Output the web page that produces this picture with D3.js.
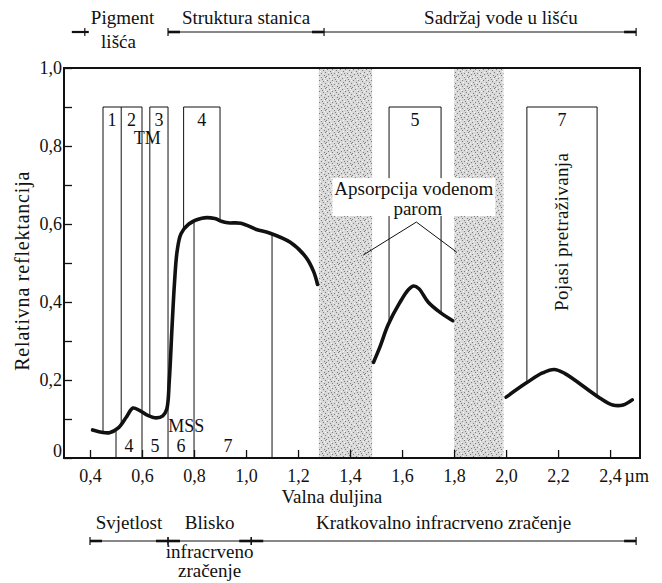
<!DOCTYPE html>
<html lang="hr">
<head>
<meta charset="UTF-8">
<title>Spektralna reflektancija lista</title>
<script src="https://d3js.org/d3.v7.min.js"></script>
<style>
  body { margin: 0; background: #fff; }
  svg text { font-family: "Liberation Serif", "Times New Roman", "DejaVu Serif", serif !important; fill: #111; }
</style>
</head>
<body>
<svg id="chart" width="662" height="583" font-family="Liberation Serif, Times New Roman, serif"></svg>
<script>
    // reflectance curve, split where water vapour absorbs
    const curveVisNir = [[0.41, 0.072], [0.445, 0.066], [0.475, 0.065], [0.51, 0.078], [0.54, 0.105], [0.565, 0.128],
        [0.59, 0.122], [0.62, 0.110], [0.655, 0.103], [0.68, 0.108], [0.695, 0.125], [0.705, 0.20], [0.715, 0.33],
        [0.725, 0.45], [0.735, 0.53], [0.75, 0.575], [0.78, 0.60], [0.83, 0.615], [0.88, 0.614], [0.905, 0.607],
        [0.93, 0.603], [0.98, 0.602], [1.04, 0.586], [1.09, 0.577], [1.17, 0.553], [1.23, 0.515], [1.26, 0.478],
        [1.275, 0.445]];
    const curveSwir1 = [[1.49, 0.245], [1.515, 0.285], [1.546, 0.341], [1.59, 0.397], [1.625, 0.432], [1.645, 0.441],
        [1.665, 0.434], [1.70, 0.40], [1.745, 0.374], [1.795, 0.352]];
    const curveSwir2 = [[2.0, 0.156], [2.077, 0.192], [2.14, 0.218], [2.185, 0.227], [2.225, 0.217], [2.36, 0.154],
        [2.41, 0.136], [2.45, 0.136], [2.485, 0.149]];

    const waterBands = [[1.28, 1.485], [1.8, 1.99]];
    const tmBands = [
        { id: "1", from: 0.45, to: 0.52 }, { id: "2", from: 0.52, to: 0.60 }, { id: "3", from: 0.63, to: 0.70 },
        { id: "4", from: 0.76, to: 0.90 }, { id: "5", from: 1.55, to: 1.75 }, { id: "7", from: 2.08, to: 2.35 }];
    const mssBands = [
        { id: "4", from: 0.5, to: 0.6 }, { id: "5", from: 0.6, to: 0.7 }, { id: "6", from: 0.7, to: 0.8 },
        { id: "7", from: 0.8, to: 1.1 }];
    const tmTop = 0.9;

    const xTicks = [0.4, 0.6, 0.8, 1.0, 1.2, 1.4, 1.6, 1.8, 2.0, 2.2, 2.4];
    const yTicks = [0, 0.1, 0.2, 0.3, 0.4, 0.5, 0.6, 0.7, 0.8, 0.9, 1.0];
    const yLabels = { 0: "0", 0.2: "0,2", 0.4: "0,4", 0.6: "0,6", 0.8: "0,8", 1: "1,0" };

    const topRegions = [
        { above: "Pigment", below: "lišća", from: 0.38, to: 0.7, at: 0.525 },
        { above: "Struktura stanica", from: 0.7, to: 1.3, at: 1.0 },
        { above: "Sadržaj vode  u lišću", from: 1.3, to: 2.5, at: 1.98 }];
    const bottomRegions = [
        { above: "Svjetlost", from: 0.4, to: 0.7 },
        { above: "Blisko", below: ["infracrveno", "zračenje"], from: 0.7, to: 1.02 },
        { above: "Kratkovalno infracrveno  zračenje", from: 1.02, to: 2.5 }];

    const serif = "Liberation Serif, Times New Roman, serif";
    const svg = d3.select("#chart");
    const x = d3.scaleLinear().domain([0.3, 2.515]).range([64, 640]);
    const y = d3.scaleLinear().domain([0, 1]).range([458, 68]);

    // stippled fill for the absorption bands
    const defs = svg.append("defs");
    const pat = defs.append("pattern").attr("id", "stipple").attr("patternUnits", "userSpaceOnUse")
        .attr("width", 13).attr("height", 11);
    pat.append("rect").attr("width", 13).attr("height", 11).attr("fill", "#d9d9d9");
    [[0, 0], [4, 1], [9, 0], [2, 3], [7, 3], [11, 4], [5, 5], [0, 6], [9, 7], [3, 8], [7, 9], [12, 9], [1, 10],
        [6, 7], [10, 2]].forEach(([a, b]) =>
        pat.append("rect").attr("x", a).attr("y", b).attr("width", 1).attr("height", 1).attr("fill", "#7d7d7d"));
    [[2, 0], [6, 2], [12, 1], [8, 5], [3, 6], [11, 7], [5, 10], [9, 10], [0, 3]].forEach(([a, b]) =>
        pat.append("rect").attr("x", a).attr("y", b).attr("width", 1).attr("height", 1).attr("fill", "#f7f7f7"));

    svg.append("g").selectAll("rect").data(waterBands).join("rect")
        .attr("x", d => x(d[0])).attr("width", d => x(d[1]) - x(d[0]))
        .attr("y", y(1)).attr("height", y(0) - y(1))
        .attr("fill", "url(#stipple)");

    // frame
    svg.append("rect").attr("x", x(0.3)).attr("y", y(1)).attr("width", x(2.515) - x(0.3)).attr("height", y(0) - y(1))
        .attr("fill", "none").attr("stroke", "#111").attr("stroke-width", 2);

    const xAxis = svg.append("g").attr("transform", `translate(0,${y(0)})`)
        .call(d3.axisBottom(x).tickValues(xTicks).tickSize(-8).tickSizeOuter(0).tickPadding(11)
            .tickFormat(d => d3.format(".1f")(d).replace(".", ",")));
    xAxis.attr("font-family", serif).attr("font-size", 18);
    xAxis.select(".domain").remove();
    xAxis.selectAll("line").attr("stroke", "#111").attr("stroke-width", 1.3);
    xAxis.selectAll("text").attr("fill", "#111");
    xAxis.selectAll(".tick").filter(d => d === 2.4).append("text")
        .attr("x", 14).attr("y", 11).attr("dy", "0.71em").attr("text-anchor", "start")
        .attr("fill", "#111").text("µm");

    const yAxis = svg.append("g").attr("transform", `translate(${x(0.3)},0)`)
        .call(d3.axisLeft(y).tickValues(yTicks).tickSize(-8).tickSizeOuter(0).tickPadding(2)
            .tickFormat(d => yLabels[Math.round(d * 10) / 10] || ""));
    yAxis.attr("font-family", serif).attr("font-size", 18);
    yAxis.select(".domain").remove();
    yAxis.selectAll("line").attr("stroke", "#111").attr("stroke-width", 1.3);
    yAxis.selectAll("text").attr("fill", "#111");
    yAxis.selectAll(".tick").filter(d => d === 0).select("text").attr("dy", "-0.1em");

    // reflectance curves
    const line = d3.line().x(d => x(d[0])).y(d => y(d[1])).curve(d3.curveCatmullRom.alpha(0.5));
    const segments = [curveVisNir, curveSwir1, curveSwir2];
    const paths = svg.append("g").selectAll("path").data(segments).join("path")
        .attr("d", line).attr("fill", "none").attr("stroke", "#111").attr("stroke-width", 3.6)
        .attr("stroke-linecap", "round").attr("stroke-linejoin", "round");

    function curveYAt(w) {
        const i = segments.findIndex(s => w >= s[0][0] && w <= s[s.length - 1][0]);
        const node = paths.nodes()[i];
        const px = x(w);
        let lo = 0, hi = node.getTotalLength();
        for (let k = 0; k < 30; k++) {
            const mid = (lo + hi) / 2;
            if (node.getPointAtLength(mid).x < px) lo = mid; else hi = mid;
        }
        return node.getPointAtLength(lo).y;
    }

    // band edges: TM hangs from the top, MSS stands on the axis, shared edges run full height
    const tmEdges = Array.from(new Set(tmBands.flatMap(b => [b.from, b.to])));
    const mssEdges = Array.from(new Set(mssBands.flatMap(b => [b.from, b.to])));
    const edges = Array.from(new Set([...tmEdges, ...mssEdges])).sort((a, b) => a - b);
    const bandG = svg.insert("g", "g");
    edges.forEach(w => {
        const top = tmEdges.includes(w), bottom = mssEdges.includes(w);
        const y1 = top ? y(tmTop) : curveYAt(w);
        const y2 = bottom ? y(0) : curveYAt(w);
        bandG.append("line").attr("x1", x(w)).attr("x2", x(w)).attr("y1", y1).attr("y2", y2)
            .attr("stroke", "#111").attr("stroke-width", 1);
    });
    bandG.selectAll(".tmtop").data(tmBands).join("line")
        .attr("x1", d => x(d.from)).attr("x2", d => x(d.to)).attr("y1", y(tmTop)).attr("y2", y(tmTop))
        .attr("stroke", "#111").attr("stroke-width", 1);

    const labelG = svg.append("g").attr("font-size", 18).attr("font-family", serif);
    labelG.selectAll(".tml").data(tmBands).join("text")
        .attr("x", d => x((d.from + d.to) / 2)).attr("y", y(0.852)).attr("text-anchor", "middle").text(d => d.id);
    labelG.selectAll(".mssl").data(mssBands).join("text")
        .attr("x", d => x((d.from + d.to) / 2) - (d.id === "7" ? 5 : 0)).attr("y", y(0.015))
        .attr("text-anchor", "middle").text(d => d.id);
    labelG.append("text").attr("x", x(0.62)).attr("y", y(0.805)).attr("text-anchor", "middle").text("TM");
    labelG.append("text").attr("x", x(0.77)).attr("y", y(0.066)).attr("text-anchor", "middle").text("MSS");
    labelG.append("text").attr("transform", `translate(${x(2.215) + 6},${y(0.58)}) rotate(-90)`)
        .attr("text-anchor", "middle").attr("font-size", 19).attr("letter-spacing", 0.4).text("Pojasi  pretraživanja");

    // water vapour note
    const noteG = svg.append("g");
    noteG.append("polyline")
        .attr("points", [[1.45, 0.52], [1.655, 0.605], [1.81, 0.528]].map(p => [x(p[0]), y(p[1])].join(",")).join(" "))
        .attr("fill", "none").attr("stroke", "#111").attr("stroke-width", 1);
    const noteBg = noteG.append("rect").attr("fill", "#fff");
    const noteText = noteG.append("g").attr("font-size", 19).attr("font-family", serif);
    noteText.append("text").attr("x", x(1.645)).attr("y", y(0.674)).attr("text-anchor", "middle").text("Apsorpcija  vodenom");
    noteText.append("text").attr("x", x(1.66)).attr("y", y(0.623)).attr("text-anchor", "middle").text("parom");
    const bb = noteText.node().getBBox();
    noteBg.attr("x", bb.x - 2).attr("y", bb.y).attr("width", bb.width + 4).attr("height", bb.height - 3);

    // axis titles
    svg.append("text").attr("transform", `translate(29,${y(0.48)}) rotate(-90)`).attr("text-anchor", "middle")
        .attr("font-size", 20).attr("letter-spacing", 0.8).attr("font-family", serif).text("Relativna  reflektancija");
    svg.append("text").attr("x", x(1.33)).attr("y", 503).attr("text-anchor", "middle")
        .attr("font-size", 19).attr("font-family", serif).text("Valna  duljina");

    // region brackets above and below
    function tickMark(g, px, py, side) {
        g.append("line").attr("x1", px).attr("x2", px).attr("y1", py - 4).attr("y2", py + 4)
            .attr("stroke", "#111").attr("stroke-width", 1.2);
        if (side) g.append("line").attr("x1", px).attr("x2", px + side * 12).attr("y1", py).attr("y2", py)
            .attr("stroke", "#111").attr("stroke-width", 2.6);
    }

    const topY = 32;
    const topG = svg.append("g").attr("font-size", 19).attr("font-family", serif);
    topG.append("line").attr("x1", x(0.7)).attr("x2", x(2.5)).attr("y1", topY).attr("y2", topY)
        .attr("stroke", "#111").attr("stroke-width", 1.2);
    topG.append("line").attr("x1", x(0.38) - 13).attr("x2", x(0.38) + 4).attr("y1", topY).attr("y2", topY)
        .attr("stroke", "#111").attr("stroke-width", 2.2);
    tickMark(topG, x(0.38), topY, 0);
    tickMark(topG, x(0.7), topY, 1);
    tickMark(topG, x(1.3), topY, -1);
    tickMark(topG, x(2.5), topY, -1);
    topRegions.forEach(r => {
        const cx = x(r.at);
        topG.append("text").attr("x", cx).attr("y", topY - 8).attr("text-anchor", "middle").text(r.above);
        if (r.below) topG.append("text").attr("x", cx - 4).attr("y", topY + 16).attr("text-anchor", "middle").text(r.below);
    });

    const botY = 541;
    const botG = svg.append("g").attr("font-size", 19).attr("font-family", serif);
    botG.append("line").attr("x1", x(0.4)).attr("x2", x(2.5)).attr("y1", botY).attr("y2", botY)
        .attr("stroke", "#111").attr("stroke-width", 1.2);
    tickMark(botG, x(0.4), botY, 1);
    tickMark(botG, x(0.7), botY, -1);
    tickMark(botG, x(0.7), botY, 1);
    tickMark(botG, x(1.02), botY, -1);
    tickMark(botG, x(1.02), botY, 1);
    tickMark(botG, x(2.5), botY, -1);
    bottomRegions.forEach(r => {
        const cx = x((r.from + r.to) / 2);
        botG.append("text").attr("x", cx).attr("y", botY - 12).attr("text-anchor", "middle").text(r.above);
        (r.below || []).forEach((t, i) => botG.append("text").attr("x", cx).attr("y", botY + 17 + i * 19)
            .attr("text-anchor", "middle").text(t));
    });
</script>
</body>
</html>
